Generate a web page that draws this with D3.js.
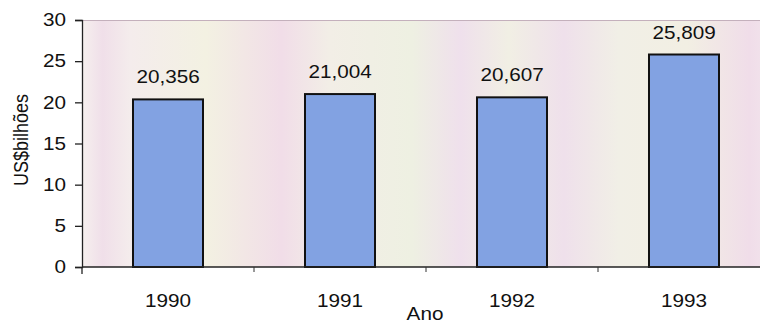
<!DOCTYPE html>
<html><head><meta charset="utf-8">
<script src="https://cdn.jsdelivr.net/npm/d3@7"></script>
<style>html,body{margin:0;padding:0;background:#fff;overflow:hidden}</style>
</head><body>
<svg id="c" width="760" height="324"></svg>
<script>
const categories = ["1990", "1991", "1992", "1993"];
const values = [20.356, 21.004, 20.607, 25.809];
const valueLabels = ["20,356", "21,004", "20,607", "25,809"];
const yTicks = [0, 5, 10, 15, 20, 25, 30];

const svg = d3.select("#c");
const m = {left: 82, top: 20, right: -10, bottom: 57};
const W = 760, H = 324;
const x0 = m.left, x1 = W - m.right, y0 = m.top, y1 = H - m.bottom;
const font = "'Liberation Sans', Arial, sans-serif";
const SX = 1.15;

const x = d3.scaleBand().domain(categories).range([x0, x1]).paddingInner(0.593).paddingOuter(0.2965);
const y = d3.scaleLinear().domain([0, 30]).range([y1, y0]);

const defs = svg.append("defs");
const g = defs.append("linearGradient").attr("id","bg").attr("gradientUnits","userSpaceOnUse")
  .attr("x1", x0).attr("x2", x1).attr("y1",0).attr("y2",0);
[[0,"#f6f0ee"],[0.03,"#f0dfe9"],[0.07,"#f4ecec"],[0.18,"#f3f1e2"],[0.29,"#f1dde8"],[0.36,"#f2eee6"],
 [0.48,"#eef0e2"],[0.55,"#efe0ec"],[0.62,"#f1efe4"],[0.7,"#efe0eb"],[0.78,"#f1efe6"],[0.88,"#f2efe3"],[0.97,"#f0dde9"],[1,"#f2e4ec"]]
  .forEach(([o,c]) => g.append("stop").attr("offset", o).attr("stop-color", c));

svg.append("rect").attr("x", x0).attr("y", y0).attr("width", x1 - x0).attr("height", y1 - y0).attr("fill", "url(#bg)");
svg.append("line").attr("x1", x0).attr("x2", x1).attr("y1", y0 + 0.5).attr("y2", y0 + 0.5).attr("stroke", "#c4b0bc").attr("stroke-width", 1);

svg.selectAll("rect.bar").data(values).join("rect").attr("class","bar")
  .attr("x", (d,i) => x(categories[i]))
  .attr("y", d => y(d))
  .attr("width", x.bandwidth())
  .attr("height", d => y(0) - y(d))
  .attr("fill", "#82a2e2").attr("stroke", "#111").attr("stroke-width", 2);

function stretchedText(sel, px, py) {
  return sel.attr("transform", (d,i) => `translate(${px(d,i)},${py(d,i)}) scale(${SX},1)`)
    .attr("font-family", font).attr("font-size", 18).attr("fill", "#111").attr("text-anchor", "middle");
}

stretchedText(svg.selectAll("text.lbl").data(values).join("text").attr("class","lbl"),
  (d,i) => x(categories[i]) + x.bandwidth()/2, d => y(d) - 16)
  .text((d,i) => valueLabels[i]);

// Y axis
const ya = svg.append("g").attr("transform", `translate(${x0},0)`)
  .call(d3.axisLeft(y).tickValues(yTicks).tickSize(7).tickPadding(7).tickFormat(d3.format("d")));
ya.select(".domain").attr("stroke","#222").attr("stroke-width",1.3);
ya.selectAll(".tick line").attr("stroke","#222").attr("stroke-width",1.3);
ya.selectAll("text").attr("font-family", font).attr("font-size", 18).attr("fill","#111")
  .attr("transform", `scale(${SX},1)`);

// X axis
svg.append("line").attr("x1", x0).attr("x2", x1).attr("y1", y1).attr("y2", y1).attr("stroke","#222").attr("stroke-width",1.5);
svg.selectAll("line.sep").data(categories.slice(1)).join("line").attr("class","sep")
  .attr("x1", c => x(c) - (x.step() - x.bandwidth())/2).attr("x2", c => x(c) - (x.step() - x.bandwidth())/2)
  .attr("y1", y1).attr("y2", y1 + 5).attr("stroke","#333").attr("stroke-width",1);
svg.append("line").attr("x1", x0).attr("x2", x0).attr("y1", y1).attr("y2", y1 + 7).attr("stroke","#222").attr("stroke-width",1.3);

stretchedText(svg.selectAll("text.xl").data(categories).join("text").attr("class","xl"),
  c => x(c) + x.bandwidth()/2, () => 307).text(c => c);

stretchedText(svg.append("text").datum("Ano"), () => 425, () => 320).text("Ano");

svg.append("text").attr("transform", `translate(28,140) rotate(-90) scale(1,${SX})`).attr("text-anchor","middle")
  .attr("font-family", font).attr("font-size", 18).attr("fill","#111").text("US$bilhões");
</script>
</body></html>
